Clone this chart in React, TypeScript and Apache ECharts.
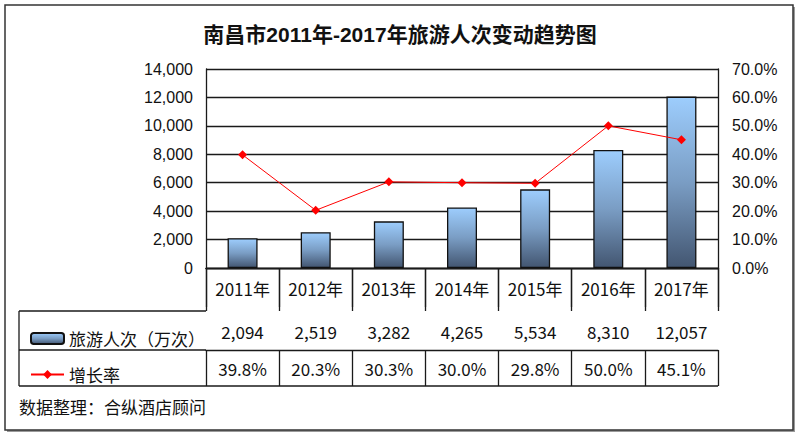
import React, { useEffect, useRef } from "react";
import * as echarts from "echarts";

const categories = ["2011年", "2012年", "2013年", "2014年", "2015年", "2016年", "2017年"];
const visitors = [2094, 2519, 3282, 4265, 5534, 8310, 12057];
const growth = [39.8, 20.3, 30.3, 30.0, 29.8, 50.0, 45.1];
const titleText = "南昌市2011年-2017年旅游人次变动趋势图";
const sourceText = "数据整理：合纵酒店顾问";
const barName = "旅游人次（万次）";
const lineName = "增长率";

const fmtThousands = (v: number) => v.toLocaleString("en-US");

export default function App() {
  const ref = useRef<HTMLDivElement>(null);
  useEffect(() => {
    document.body.style.margin = "0";
    const chart = echarts.init(ref.current!, null, { renderer: "svg" });
    const L = 206, T = 69, W = 512, H = 199;
    const B = T + H;
    const r1 = B + 43, r2 = B + 82, r3 = B + 118;
    const TL = 19;
    const lineColor = "#1a1a1a";
    const cjk = "'Noto Sans CJK SC', 'Microsoft YaHei', sans-serif";
    const arial = "'Liberation Sans', Arial, sans-serif";
    const barGrad = new echarts.graphic.LinearGradient(0, 0, 0, 1, [
      { offset: 0, color: "#9dcdfd" },
      { offset: 0.5, color: "#7a9dc4" },
      { offset: 1, color: "#435671" },
    ]);
    const hline = (x1: number, x2: number, y: number) => ({
      type: "line",
      shape: { x1, y1: y, x2, y2: y },
      style: { stroke: lineColor, lineWidth: 1.3 },
      z: 10,
    });
    const vline = (x: number, y1: number, y2: number) => ({
      type: "line",
      shape: { x1: x, y1, x2: x, y2 },
      style: { stroke: lineColor, lineWidth: 1.3 },
      z: 10,
    });
    chart.setOption({
      animation: false,
      backgroundColor: "#fff",
      title: {
        text: titleText,
        left: "center",
        top: 19,
        textStyle: {
          fontFamily: "'Liberation Sans', 'Noto Sans CJK SC', sans-serif",
          fontSize: 21,
          fontWeight: "bold",
          color: "#111",
        },
      },
      grid: { left: L, top: T, width: W, height: H },
      legend: {
        orient: "vertical",
        left: 25,
        top: 325,
        itemWidth: 33,
        itemHeight: 11,
        itemGap: 19,
        selectedMode: false,
        textStyle: { fontFamily: cjk, fontSize: 17, color: "#111" },
        data: [barName, lineName],
      },
      xAxis: [
        {
          type: "category",
          data: categories,
          position: "bottom",
          axisLine: { show: true, lineStyle: { color: lineColor, width: 1.3 } },
          axisTick: { show: true, length: 43, interval: 0, lineStyle: { color: lineColor, width: 1.3 } },
          axisLabel: { interval: 0, margin: 12, fontFamily: cjk, fontSize: 17, color: "#111", lineHeight: 17 },
        },
        {
          type: "category",
          data: visitors.map(fmtThousands),
          position: "bottom",
          offset: 43,
          axisLine: { show: true, lineStyle: { color: lineColor, width: 1.3 } },
          axisTick: { show: true, length: 39, interval: 0, lineStyle: { color: lineColor, width: 1.3 } },
          axisLabel: { interval: 0, margin: 12, fontFamily: cjk, fontSize: 17, color: "#111", lineHeight: 17 },
        },
        {
          type: "category",
          data: growth.map((g) => g.toFixed(1) + "%"),
          position: "bottom",
          offset: 82,
          axisLine: { show: true, lineStyle: { color: lineColor, width: 1.3 } },
          axisTick: { show: true, length: 36, interval: 0, lineStyle: { color: lineColor, width: 1.3 } },
          axisLabel: { interval: 0, margin: 10, fontFamily: cjk, fontSize: 17, color: "#111", lineHeight: 17 },
        },
      ],
      yAxis: [
        {
          type: "value",
          min: 0,
          max: 14000,
          interval: 2000,
          axisLine: { show: true, lineStyle: { color: lineColor, width: 1.3 } },
          axisTick: { show: false },
          splitLine: { show: true, lineStyle: { color: lineColor, width: 1.3 } },
          axisLabel: { margin: 13, fontFamily: arial, fontSize: 16, color: "#111", formatter: (v: number) => fmtThousands(v) },
        },
        {
          type: "value",
          min: 0,
          max: 70,
          interval: 10,
          position: "right",
          axisLine: { show: true, lineStyle: { color: lineColor, width: 1.3 } },
          axisTick: { show: false },
          splitLine: { show: false },
          axisLabel: { margin: 14, fontFamily: arial, fontSize: 16, color: "#111", formatter: (v: number) => v.toFixed(1) + "%" },
        },
      ],
      series: [
        {
          name: barName,
          type: "bar",
          xAxisIndex: 0,
          yAxisIndex: 0,
          data: visitors,
          barWidth: 30,
          itemStyle: { color: barGrad, borderColor: "#111", borderWidth: 1.3 },
          z: 2,
        },
        {
          name: lineName,
          type: "line",
          xAxisIndex: 0,
          yAxisIndex: 1,
          data: growth,
          symbol: "diamond",
          symbolSize: 9,
          lineStyle: { color: "#ff0000", width: 1 },
          itemStyle: { color: "#ff0000" },
          z: 5,
        },
      ],
      graphic: [
        {
          type: "rect",
          shape: { x: 7, y: 7, width: 788, height: 425 },
          style: { fill: "#9a9a9a", stroke: "none" },
          z: -2,
          silent: true,
        },
        {
          type: "rect",
          shape: { x: 5, y: 5, width: 788, height: 425 },
          style: { fill: "#fff", stroke: "#333", lineWidth: 1.5 },
          z: -1,
          silent: true,
        },
        hline(TL, L, r1),
        hline(TL, L, r2),
        hline(TL, L + W, r3),
        vline(TL, r1, r3),
        {
          type: "text",
          x: TL,
          y: 406,
          style: { text: sourceText, fontFamily: cjk, fontSize: 17, fill: "#111", textVerticalAlign: "middle" },
          z: 10,
        },
      ],
    });
    return () => chart.dispose();
  }, []);
  return <div ref={ref} style={{ width: 800, height: 436 }} />;
}
